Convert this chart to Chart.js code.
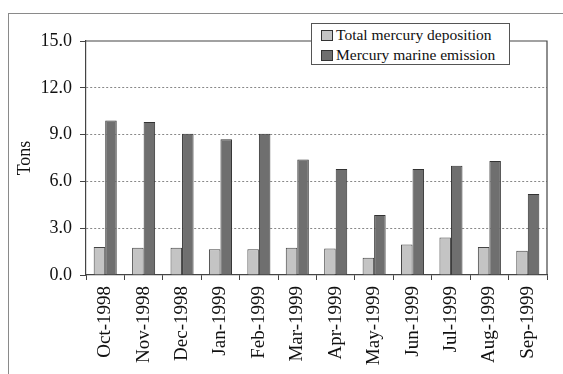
<!DOCTYPE html>
<html>
<head>
<meta charset="utf-8">
<script src="https://cdn.jsdelivr.net/npm/chart.js@4.4.0/dist/chart.umd.min.js"></script>
<style>
    html, body { margin: 0; padding: 0; background: #fff; overflow: hidden; }
    #wrap { position: relative; width: 563px; height: 374px; overflow: hidden; }
    #frame { position: absolute; left: 8px; top: 13px; right: 0; bottom: 0; border-left: 1.5px solid #8a8a8a; border-top: 1.5px solid #8a8a8a; }
    #legend {
        position: absolute; left: 311px; top: 23px; width: 188px; height: 39px;
        border: 1.5px solid #555; background: #fff;
        font-family: "Liberation Serif", "Times New Roman", serif; font-size: 15.5px; color: #111;
        padding: 1px 0 0 9px; line-height: 20px;
    }
    #legend span.box { display: inline-block; width: 10px; height: 9px; border: 1px solid #333; margin-right: 3px; vertical-align: -1px; }
</style>
</head>
<body>
<div id="wrap">
    <div id="frame"></div>
    <canvas id="myChart" width="563" height="374" style="position:absolute;left:0;top:0;"></canvas>
    <div id="legend"></div>
</div>
<script>
// data
const months = ['Oct-1998', 'Nov-1998', 'Dec-1998', 'Jan-1999', 'Feb-1999', 'Mar-1999',
    'Apr-1999', 'May-1999', 'Jun-1999', 'Jul-1999', 'Aug-1999', 'Sep-1999'];
const totalDeposition = [1.8, 1.75, 1.75, 1.65, 1.65, 1.75, 1.7, 1.1, 1.95, 2.4, 1.8, 1.55];
const marineEmission = [9.9, 9.8, 9.05, 8.7, 9.05, 7.4, 6.8, 3.85, 6.8, 7.0, 7.3, 5.2];
const seriesNames = ['Total mercury deposition', 'Mercury marine emission'];
const yTicks = [0, 3, 6, 9, 12, 15];

const serif = '"Liberation Serif", "Times New Roman", serif';
const lightGray = '#c4c4c4';
const darkGray = '#6f6f6f';

// plot frame (top and right edges)
const frameLines = {
    id: 'frameLines',
    afterDraw(chart) {
        const a = chart.chartArea, c = chart.ctx;
        c.save();
        c.strokeStyle = '#444';
        c.lineWidth = 1.2;
        c.setLineDash([]);
        c.beginPath();
        c.moveTo(a.left, a.top);
        c.lineTo(a.right, a.top);
        c.lineTo(a.right, a.bottom);
        c.stroke();
        c.restore();
    }
};

const ctx = document.getElementById('myChart').getContext('2d');
const chart = new Chart(ctx, {
    type: 'bar',
    data: {
        labels: months,
        datasets: [
            {
                label: seriesNames[0],
                data: totalDeposition,
                backgroundColor: lightGray,
                borderColor: '#444',
                borderWidth: 1,
                categoryPercentage: 0.6,
                barPercentage: 1.0
            },
            {
                label: seriesNames[1],
                data: marineEmission,
                backgroundColor: darkGray,
                borderColor: '#333',
                borderWidth: 1,
                categoryPercentage: 0.6,
                barPercentage: 1.0
            }
        ]
    },
    options: {
        responsive: false,
        animation: false,
        devicePixelRatio: 1,
        layout: { padding: { left: 0, top: 41, right: 16, bottom: 0 } },
        plugins: {
            legend: { display: false },
            tooltip: { enabled: false }
        },
        scales: {
            x: {
                grid: {
                    offset: true,
                    drawOnChartArea: false,
                    tickLength: 5,
                    tickColor: '#444'
                },
                border: { color: '#444', width: 1.2 },
                ticks: {
                    minRotation: 90,
                    maxRotation: 90,
                    autoSkip: false,
                    padding: 6,
                    color: '#111',
                    font: { family: serif, size: 19 }
                },
                afterFit(scale) { scale.height = 99; }
            },
            y: {
                min: 0,
                max: 15,
                afterBuildTicks(scale) { scale.ticks = yTicks.map(v => ({ value: v })); },
                grid: {
                    color: c => (c.tick && c.tick.value > 0 && c.tick.value < 15) ? '#888' : 'rgba(0,0,0,0)',
                    lineWidth: 1,
                    tickLength: 6,
                    tickColor: '#444',
                    tickBorderDash: [],
                    drawTicks: true
                },
                // in v4 border.dash is what dashes the gridlines
                border: { color: '#444', width: 1.2, dash: [2, 2] },
                ticks: {
                    padding: 8,
                    color: '#111',
                    font: { family: serif, size: 18 },
                    callback: v => Number(v).toFixed(1)
                },
                title: {
                    display: true,
                    text: 'Tons',
                    color: '#111',
                    padding: { top: 14, bottom: 0 },
                    font: { family: serif, size: 18 }
                },
                afterFit(scale) { scale.width = 86; }
            }
        }
    },
    plugins: [frameLines]
});

// legend built from the same series
const legendEl = document.getElementById('legend');
legendEl.innerHTML = chart.data.datasets.map(ds =>
    '<div><span class="box" style="background:' + ds.backgroundColor + '"></span>' + ds.label + '</div>'
).join('');
</script>
</body>
</html>
